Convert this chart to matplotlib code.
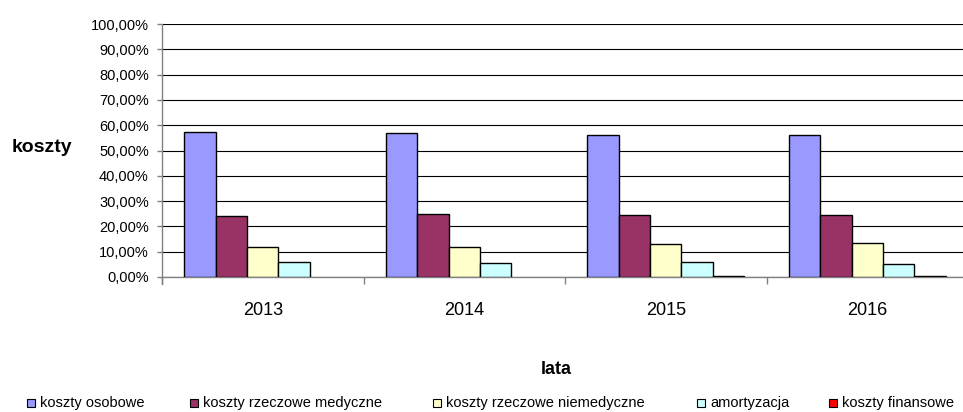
import matplotlib
matplotlib.use("Agg")
import matplotlib.pyplot as plt
from matplotlib.patches import Rectangle
from matplotlib.ticker import MultipleLocator, FixedLocator, FuncFormatter
import numpy as np

plt.rcParams['font.family'] = ['Liberation Sans', 'DejaVu Sans']

years = ["2013", "2014", "2015", "2016"]
series_names = [
    "koszty osobowe",
    "koszty rzeczowe medyczne",
    "koszty rzeczowe niemedyczne",
    "amortyzacja",
    "koszty finansowe",
]
koszty_osobowe = [57.4, 56.8, 56.2, 56.2]
koszty_rzeczowe_medyczne = [24.0, 24.9, 24.4, 24.4]
koszty_rzeczowe_niemedyczne = [11.7, 11.7, 12.9, 13.3]
amortyzacja = [5.8, 5.7, 5.8, 5.3]
koszty_finansowe = [0.0, 0.0, 0.3, 0.2]

values = [koszty_osobowe, koszty_rzeczowe_medyczne, koszty_rzeczowe_niemedyczne,
          amortyzacja, koszty_finansowe]
colors = ["#9999FF", "#993366", "#FFFFCC", "#CCFFFF", "#FF0000"]

W, H = 963, 412
fig = plt.figure(figsize=(W / 100, H / 100), dpi=100)
ax = fig.add_axes([162 / W, 135 / H, 806 / W, 253 / H])

n = len(series_names)
bw = 0.156
x = np.arange(len(years)) + 0.5
for i, (vals, c) in enumerate(zip(values, colors)):
    offs = (i - (n - 1) / 2) * bw
    lws = [1.0 if v > 0 else 0 for v in vals]
    ax.bar(x + offs, vals, width=bw, color=c, edgecolor="black",
           linewidth=lws, zorder=3)

ax.set_xlim(0, len(years))
ax.set_ylim(0, 100)
ax.yaxis.set_major_locator(MultipleLocator(10))
ax.yaxis.set_major_formatter(FuncFormatter(lambda v, p: f"{v:.2f}".replace(".", ",") + "%"))
ax.grid(axis="y", color="black", linewidth=0.8, zorder=0)
ax.set_axisbelow(True)

ax.xaxis.set_major_locator(FixedLocator(np.arange(len(years) + 1)))
ax.xaxis.set_major_formatter(FuncFormatter(lambda v, p: ""))
ax.xaxis.set_minor_locator(FixedLocator(x))
ax.set_xticklabels(years, minor=True)
ax.tick_params(axis="x", which="major", length=5, width=1, color="#808080", direction="out")
ax.tick_params(axis="x", which="minor", length=0, pad=18, labelsize=13)
ax.tick_params(axis="y", length=3.5, width=1, color="#808080", labelsize=10.5, pad=6)

for s in ["top", "right"]:
    ax.spines[s].set_visible(False)
for s in ["left", "bottom"]:
    ax.spines[s].set_color("#808080")
    ax.spines[s].set_linewidth(1)
ax.spines["left"].set_bounds(-2.8, 100)
ax.spines["left"].set_clip_on(False)

fig.text(42 / W, 1 - 148 / H, "koszty", fontsize=14, fontweight="bold",
         ha="center", va="center")
fig.text(556 / W, 1 - 369 / H, "lata", fontsize=13, fontweight="bold",
         ha="center", va="center")

# legend row along the bottom edge
leg_x = [27, 190, 433, 697, 829]
leg_y = 403
sq = 8
for lx, name, c in zip(leg_x, series_names, colors):
    fig.patches.append(Rectangle((lx / W, (H - leg_y - sq / 2) / H), sq / W, sq / H,
                                 transform=fig.transFigure, facecolor=c,
                                 edgecolor="black", linewidth=0.8))
    fig.text((lx + 13) / W, 1 - leg_y / H, name, fontsize=10.5,
             ha="left", va="center")

fig.savefig("out.png", dpi=100)
